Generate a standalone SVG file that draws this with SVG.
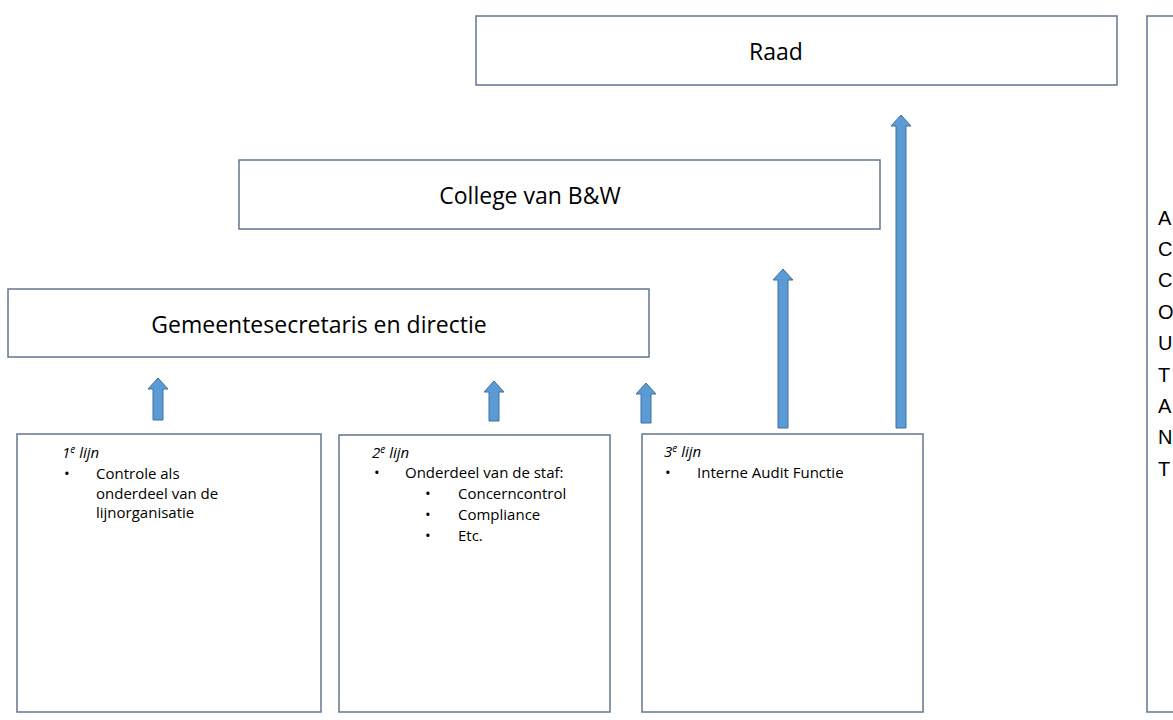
<svg xmlns="http://www.w3.org/2000/svg" width="1173" height="720" viewBox="0 0 1173 720">
<style>
.box{fill:#ffffff;stroke:#62768F;stroke-width:1.5}
.arrow{fill:#5B9BD5;stroke:#41719C;stroke-width:1}
.big{font-family:"Open Sans","Liberation Sans",sans-serif;font-size:23px;fill:#000}
.small{font-family:"Open Sans","Liberation Sans",sans-serif;font-size:15px;fill:#000}
.it{font-style:italic}
.sup{font-size:10px}
.col{font-family:"Liberation Sans",Arial,sans-serif;font-size:20px;fill:#000}
</style>
<rect width="1173" height="720" fill="#ffffff"/>
<g id="connectors">
<path class="arrow" d="M153,420 L153,389 L148,389 L158,378 L168,389 L163,389 L163,420 Z"/>
<path class="arrow" d="M489,421 L489,392 L484,392 L494,381 L504,392 L499,392 L499,421 Z"/>
<path class="arrow" d="M641,423 L641,394 L636,394 L646,383 L656,394 L651,394 L651,423 Z"/>
<path class="arrow" d="M778,428 L778,280 L773,280 L783,269 L793,280 L788,280 L788,428 Z"/>
<path class="arrow" d="M896,428 L896,126 L891,126 L901,115 L911,126 L906,126 L906,428 Z"/>
</g>
<g id="raad">
<rect class="box" x="476" y="16" width="641" height="69"/>
<text class="big" x="776" y="60" text-anchor="middle">Raad</text>
</g>
<g id="college">
<rect class="box" x="239" y="160" width="641" height="69"/>
<text class="big" x="530" y="204" text-anchor="middle">College van B&amp;W</text>
</g>
<g id="gemeentesecretaris">
<rect class="box" x="8" y="289" width="641" height="68"/>
<text class="big" x="319" y="333" text-anchor="middle">Gemeentesecretaris en directie</text>
</g>
<g id="lijn1">
<rect class="box" x="17" y="434" width="304" height="278"/>
<text class="small it" x="62" y="458">1<tspan class="sup" dy="-5">e</tspan><tspan dy="5"> lijn</tspan></text>
<text class="small" x="64" y="479">•</text>
<text class="small" x="96" y="479">Controle als</text>
<text class="small" x="96" y="498.5">onderdeel van de</text>
<text class="small" x="96" y="518">lijnorganisatie</text>
</g>
<g id="lijn2">
<rect class="box" x="339" y="435" width="271" height="277"/>
<text class="small it" x="372" y="458">2<tspan class="sup" dy="-5">e</tspan><tspan dy="5"> lijn</tspan></text>
<text class="small" x="374" y="478">•</text>
<text class="small" x="405" y="478">Onderdeel van de staf:</text>
<text class="small" x="425" y="499">•</text>
<text class="small" x="458" y="499">Concerncontrol</text>
<text class="small" x="425" y="520">•</text>
<text class="small" x="458" y="520">Compliance</text>
<text class="small" x="425" y="541">•</text>
<text class="small" x="458" y="541">Etc.</text>
</g>
<g id="lijn3">
<rect class="box" x="642" y="434" width="281" height="278"/>
<text class="small it" x="664" y="457">3<tspan class="sup" dy="-5">e</tspan><tspan dy="5"> lijn</tspan></text>
<text class="small" x="665" y="478">•</text>
<text class="small" x="697" y="478">Interne Audit Functie</text>
</g>
<g id="accountant">
<rect class="box" x="1147" y="16" width="40" height="696"/>
<text class="col" x="1158" y="225">A</text>
<text class="col" x="1158" y="256">C</text>
<text class="col" x="1158" y="287">C</text>
<text class="col" x="1158" y="319">O</text>
<text class="col" x="1158" y="350">U</text>
<text class="col" x="1158" y="382">T</text>
<text class="col" x="1158" y="413">A</text>
<text class="col" x="1158" y="444">N</text>
<text class="col" x="1158" y="476">T</text>
</g>
</svg>
